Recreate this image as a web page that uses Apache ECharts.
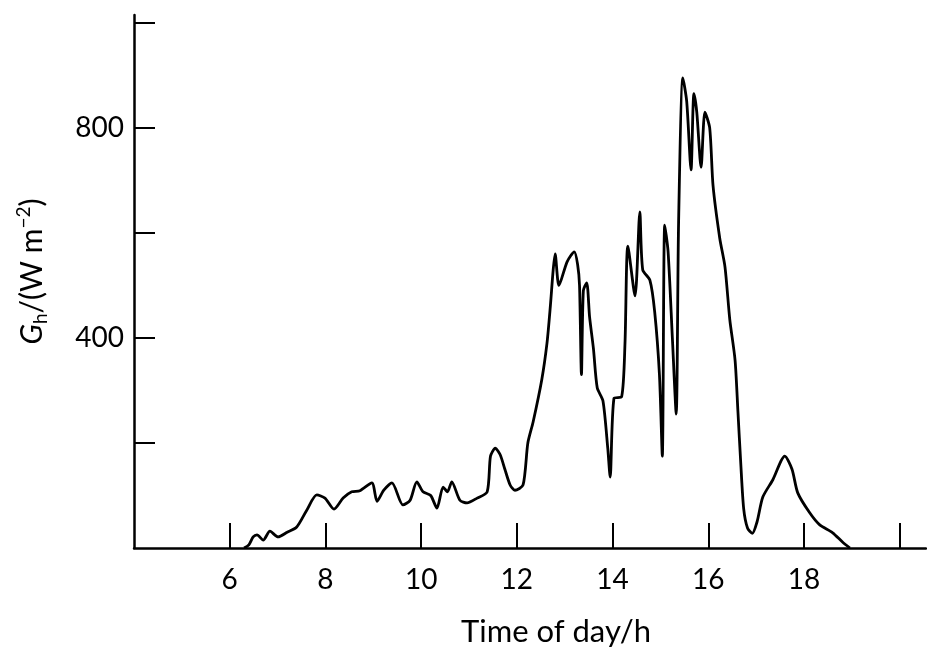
<!DOCTYPE html>
<html>
<head>
<meta charset="utf-8">
<script src="https://cdn.jsdelivr.net/npm/echarts@6/dist/echarts.min.js"></script>
<style>
  html, body { margin: 0; padding: 0; background: #fff; }
  #chart { width: 927px; height: 652px; }
</style>
</head>
<body>
<div id="chart"></div>
<script>
// time of day (h) and global horizontal irradiance (W m^-2)
const hours = [
  6.30, 6.40, 6.49, 6.57, 6.70, 6.84, 7.01, 7.20, 7.40, 7.61, 7.82, 7.99,
  8.18, 8.37, 8.55, 8.72, 8.97, 9.08, 9.22, 9.39, 9.62, 9.77, 9.91, 10.04,
  10.20, 10.33, 10.46, 10.55, 10.64, 10.81, 10.96, 11.17, 11.38, 11.45, 11.55, 11.65,
  11.75, 11.86, 11.96, 12.13, 12.23, 12.34, 12.52, 12.63, 12.70, 12.76, 12.80, 12.88,
  13.05, 13.20, 13.27, 13.31, 13.35, 13.39, 13.46, 13.52, 13.60, 13.68, 13.80, 13.90,
  13.95, 14.03, 14.19, 14.26, 14.32, 14.47, 14.57, 14.63, 14.78, 14.88, 14.98, 15.04,
  15.09, 15.16, 15.25, 15.33, 15.38, 15.47, 15.55, 15.64, 15.70, 15.76, 15.85, 15.93,
  16.03, 16.10, 16.24, 16.35, 16.45, 16.56, 16.62, 16.68, 16.74, 16.82, 16.92, 17.02,
  17.14, 17.35, 17.60, 17.75, 17.87, 18.12, 18.33, 18.60, 18.81, 18.96,
];
const irradiance = [
  0, 6, 21, 25, 15, 32, 21, 30, 40, 72, 101, 95,
  74, 95, 107, 109, 124, 89, 110, 124, 82, 91, 126, 107,
  100, 76, 116, 107, 126, 91, 86, 95, 107, 175, 190, 178,
  150, 120, 110, 120, 200, 240, 320, 390, 460, 530, 560, 500,
  545, 564, 540, 500, 330, 490, 505, 440, 380, 305, 280, 190,
  135, 285, 288, 390, 575, 480, 640, 530, 510, 450, 330, 175,
  615, 565, 400, 255, 620, 895, 850, 720, 865, 830, 725, 830,
  800, 690, 590, 535, 435, 358, 260, 160, 75, 38, 28, 50,
  97, 130, 175, 150, 105, 67, 44, 29, 11, 0,
];
const xTicks = [6, 8, 10, 12, 14, 16, 18, 20];
const xTickLabels = [6, 8, 10, 12, 14, 16, 18];
const yTicks = [200, 400, 600, 800, 1000];
const yTickLabels = [400, 800];

const font = 'Lato, "Open Sans", sans-serif';
const chart = echarts.init(document.getElementById('chart'), null, { renderer: 'canvas' });

const option = {
  animation: false,
  grid: { left: 134, right: 1, top: 15, bottom: 104, outerBoundsMode: 'none', containLabel: false },
  xAxis: {
    type: 'value',
    min: 4,
    max: 20.55,
    name: 'Time of day/h',
    nameLocation: 'middle',
    nameGap: 68,
    nameTextStyle: { color: '#000', fontSize: 31, fontFamily: font, padding: [0, 0, 0, 52] },
    axisLine: { lineStyle: { color: '#000', width: 2.5 } },
    axisTick: { inside: true, length: 25, customValues: xTicks, lineStyle: { color: '#000', width: 2 } },
    axisLabel: { customValues: xTickLabels, margin: 18, color: '#000', fontSize: 28, fontFamily: font },
    splitLine: { show: false },
  },
  yAxis: {
    type: 'value',
    min: 0,
    max: 1015,
    name: '{g|G}{sub|h}{n|/(W m}{sup|−2}{n|)}',
    nameLocation: 'middle',
    nameRotate: 90,
    nameGap: 84,
    nameTextStyle: {
      color: '#000',
      fontFamily: font,
      padding: [0, 0, 0, 20],
      rich: {
        g: { fontSize: 30, fontStyle: 'italic', fontFamily: font, lineHeight: 36, verticalAlign: 'middle' },
        n: { fontSize: 30, fontFamily: font, lineHeight: 36, verticalAlign: 'middle' },
        sub: { fontSize: 19, fontFamily: font, lineHeight: 36, verticalAlign: 'bottom' },
        sup: { fontSize: 19, fontFamily: font, lineHeight: 36, verticalAlign: 'top' },
      },
    },
    axisLine: { show: true, lineStyle: { color: '#000', width: 2.5 } },
    axisTick: { show: true, inside: true, length: 21, customValues: yTicks, lineStyle: { color: '#000', width: 2 } },
    axisLabel: { customValues: yTickLabels, margin: 10, color: '#000', fontSize: 28, fontFamily: font },
    splitLine: { show: false },
  },
  series: [
    {
      type: 'line',
      data: hours.map((h, i) => [h, irradiance[i]]),
      showSymbol: false,
      smooth: 0.25,
      lineStyle: { color: '#000', width: 2.8 },
    },
  ],
};

chart.setOption(option);
</script>
</body>
</html>
